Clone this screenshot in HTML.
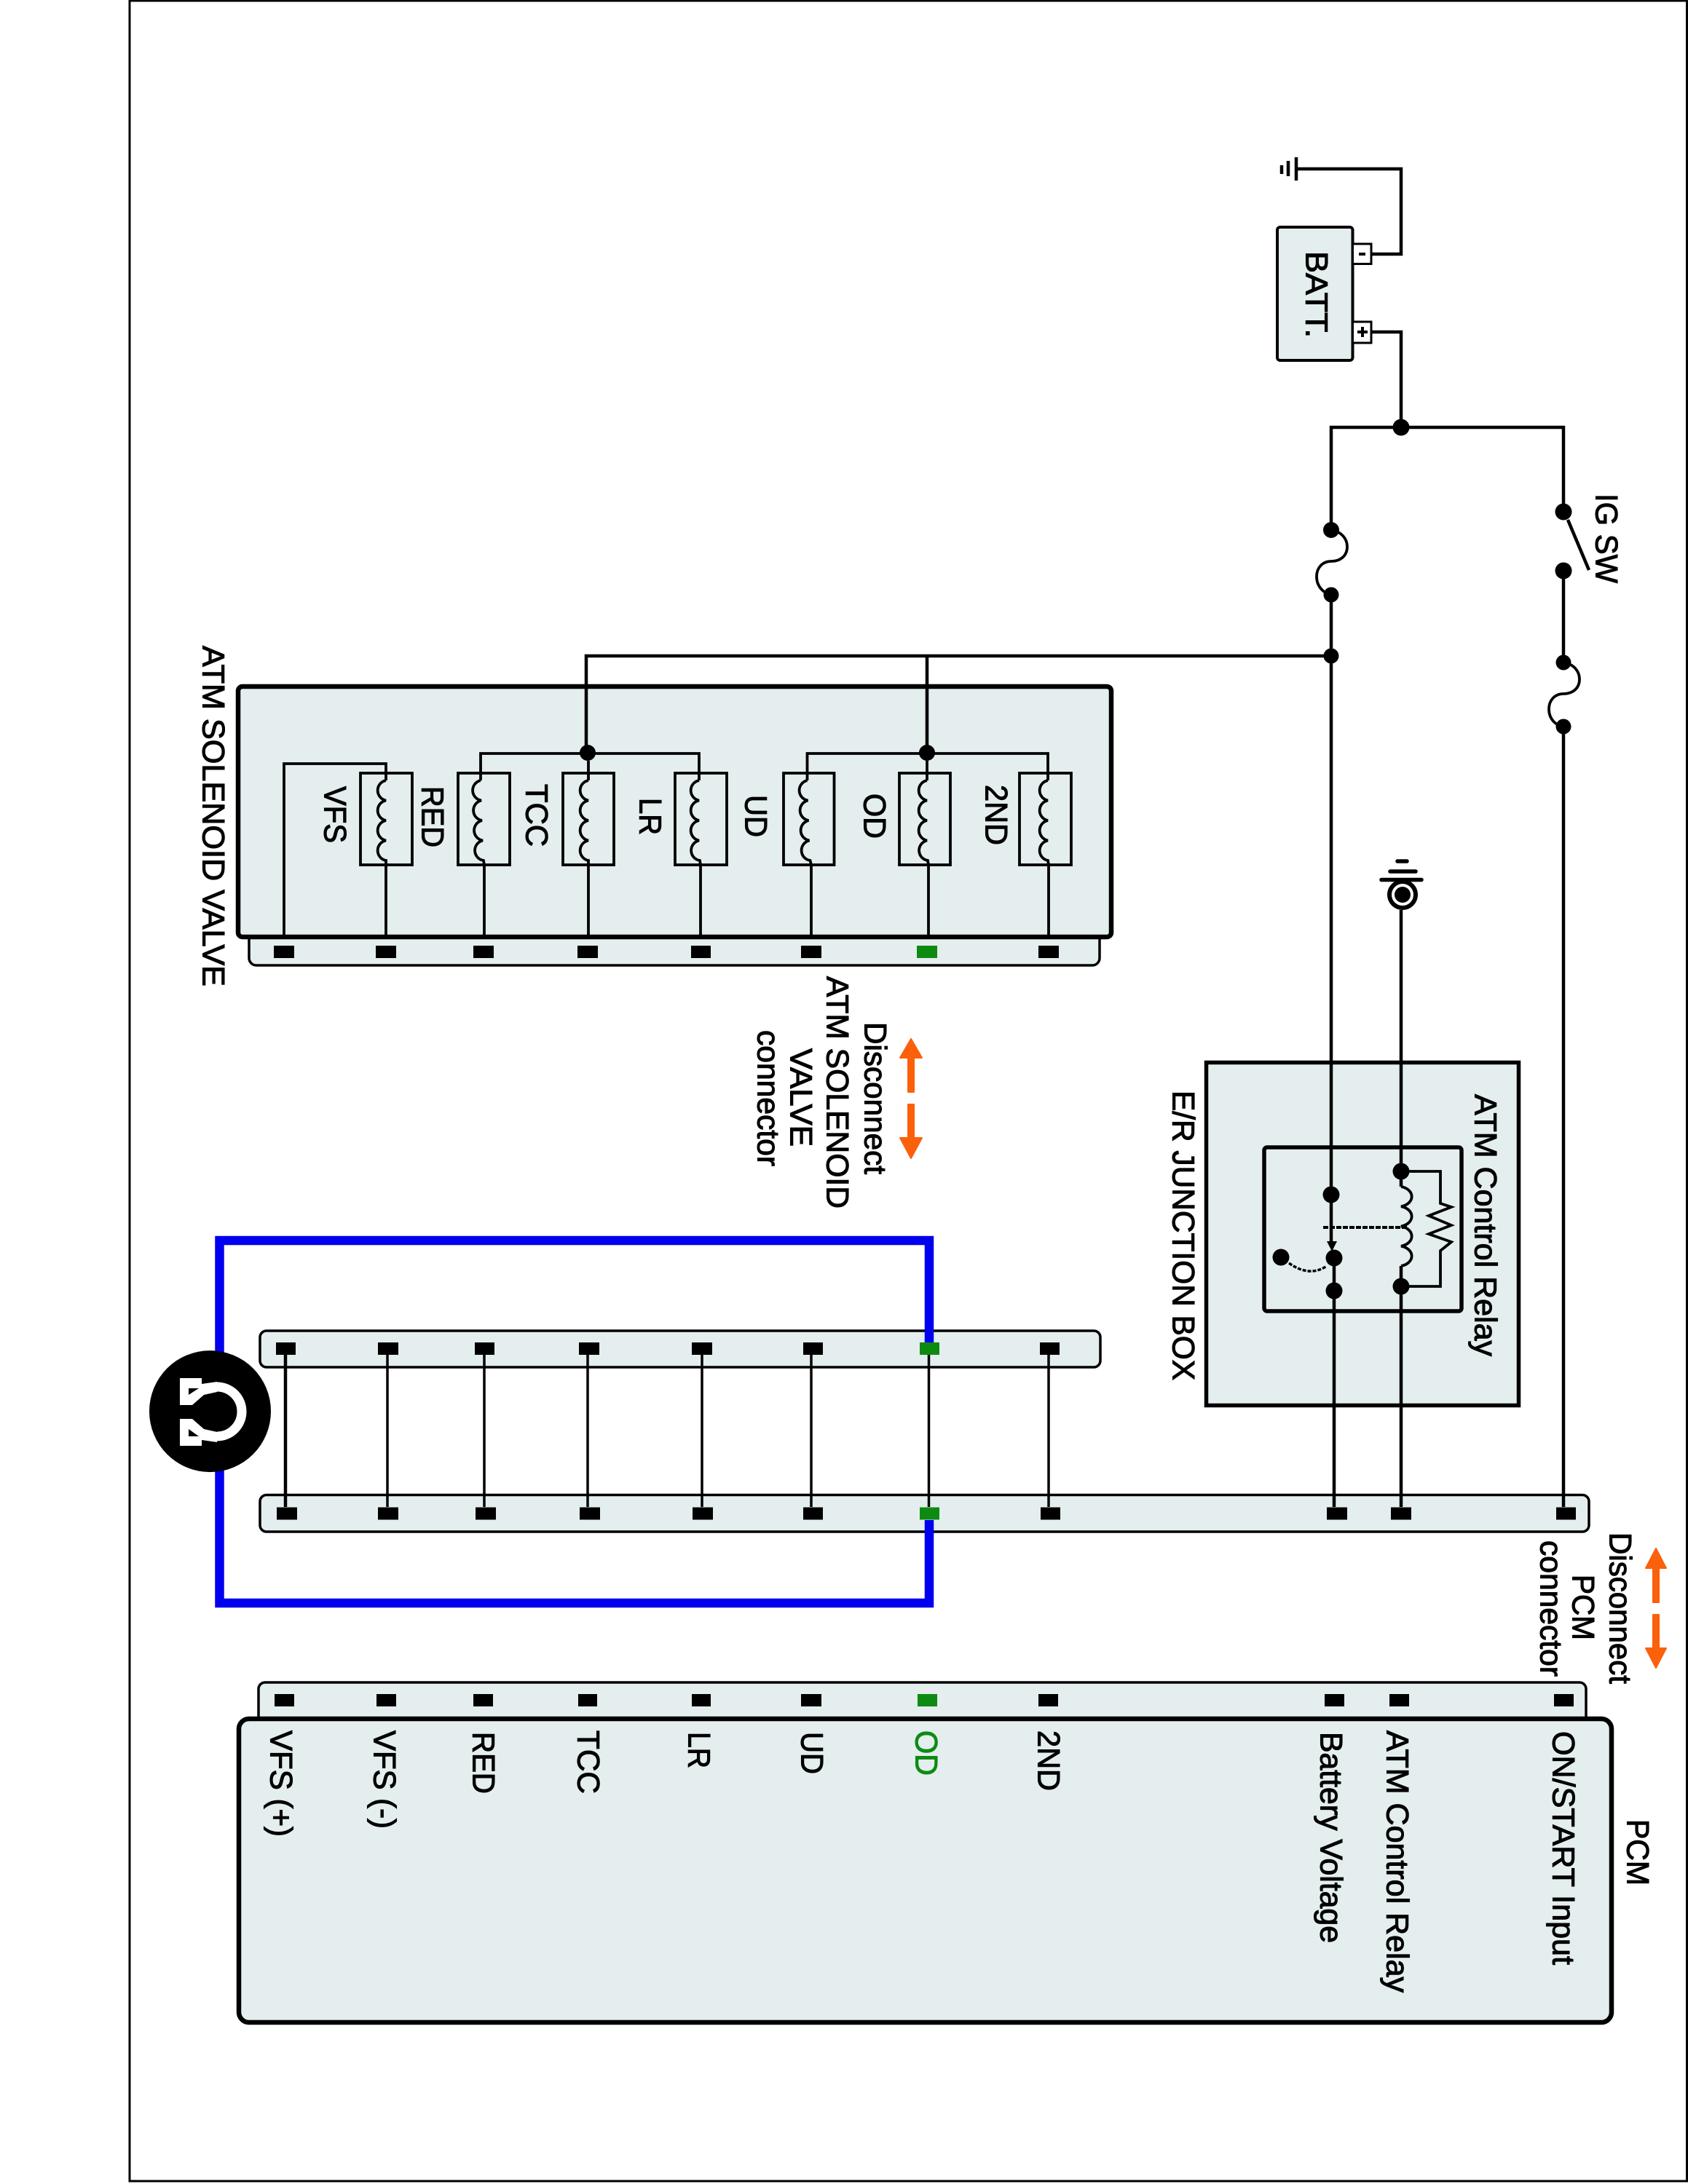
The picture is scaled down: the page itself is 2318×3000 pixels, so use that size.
<!DOCTYPE html>
<html>
<head>
<meta charset="utf-8">
<style>
html,body{margin:0;padding:0;background:#fff}
svg{display:block}
text{font-family:"Liberation Sans",Arial,sans-serif;font-size:43px;fill:#000;stroke:#000;stroke-width:1.1px}
.g{fill:#0d8a12;stroke:#0d8a12}
.w{fill:none;stroke:#000;stroke-width:4.5;stroke-linejoin:miter}
.t{fill:none;stroke:#000;stroke-width:3.8}
.b{fill:#e4eeee;stroke:#000}
</style>
</head>
<body>
<svg xmlns="http://www.w3.org/2000/svg" width="2318" height="3000" viewBox="0 0 2318 3000">
<rect width="2318" height="3000" fill="#fff"/>
<!-- frame -->
<path d="M178 1H2316.5V2996H178Z" fill="none" stroke="#000" stroke-width="3"/>

<!-- boxes -->
<rect class="b" x="1656.5" y="1459.5" width="429" height="471" stroke-width="5.5"/>
<rect class="b" x="342" y="1270" width="1168" height="56" rx="10" stroke-width="3.5"/>
<rect class="b" x="327" y="943" width="1199" height="344" rx="6" stroke-width="6.5"/>
<rect class="b" x="357" y="1828" width="1154" height="50" rx="9" stroke-width="3.5"/>
<rect class="b" x="357" y="2053.5" width="1825" height="50.5" rx="9" stroke-width="3.5"/>
<rect class="b" x="355" y="2311" width="1823" height="70" rx="9" stroke-width="3.5"/>
<rect class="b" x="328" y="2361" width="1885" height="417" rx="14" stroke-width="6.5"/>
<rect class="b" x="1754" y="312" width="103.5" height="183" rx="4" stroke-width="4"/>
<rect x="1857.5" y="335" width="25.5" height="27.5" fill="#fff" stroke="#000" stroke-width="3"/>
<rect x="1857.5" y="442" width="25.5" height="29" fill="#fff" stroke="#000" stroke-width="3"/>
<path d="M1866 349h9M1864 456h14M1871 449v14" stroke="#000" stroke-width="4" fill="none"/>
<rect x="1736" y="1576" width="271" height="225" rx="4" fill="none" stroke="#000" stroke-width="5.5"/>

<!-- blue loop (drawn over connector strips) -->
<path d="M1276 1844V1704H301.5V2202H1276V2088" fill="none" stroke="#0000ee" stroke-width="12.5"/>

<!-- power wiring -->
<path class="w" d="M1780 232H1924V349H1883"/>
<path d="M1780 216V248M1769 221V242M1760 227V239" stroke="#000" stroke-width="4.5" fill="none"/>
<path class="w" d="M1883 456H1924V587"/>
<path class="w" d="M1828 728V587H2147V703"/>
<path class="w" d="M1828 817V1706"/>
<path class="w" d="M1832 1728V2070"/>
<path class="w" d="M2147 784V910M2147 998V2070"/>
<path class="w" d="M2153 714L2182 783"/>
<path class="t" d="M1828 728C1842 730 1850 740 1850 751C1850 764 1840 771 1828 771C1816 771 1808 780 1808 792C1808 806 1818 815 1828 817"/>
<path class="t" d="M2147 910C2161 912 2169 922 2169 933C2169 946 2159 953 2147 953C2135 953 2127 962 2127 974C2127 988 2137 997 2147 998"/>
<path class="w" d="M805 1034V901H1828"/>
<path class="w" d="M1273 901V1034"/>

<!-- junction dots -->
<g fill="#000">
<circle cx="1924" cy="587" r="11.5"/>
<circle cx="1828" cy="728" r="11"/><circle cx="1828" cy="817" r="10.5"/><circle cx="1828" cy="901" r="10.5"/>
<circle cx="2147" cy="703" r="11.5"/><circle cx="2147" cy="784" r="11.5"/>
<circle cx="2147" cy="910" r="10.5"/><circle cx="2147" cy="998" r="10.5"/>
<circle cx="807" cy="1034" r="11"/><circle cx="1273" cy="1034" r="11"/>
<circle cx="1828" cy="1641" r="11.5"/><circle cx="1832" cy="1728" r="11.5"/><circle cx="1832" cy="1773" r="11.5"/>
<circle cx="1759" cy="1727" r="11.5"/>
<circle cx="1924" cy="1609" r="11.5"/><circle cx="1924" cy="1767" r="11.5"/>
</g>

<!-- relay internals -->
<path d="M1822 1705H1836L1829 1719Z" fill="#000"/>
<path d="M1817 1686H1933" stroke="#000" stroke-width="4" stroke-dasharray="7 2" fill="none"/>
<path d="M1770 1735Q1798 1755 1822 1739" stroke="#000" stroke-width="3.5" stroke-dasharray="5 2" fill="none"/>
<path class="w" d="M1924 1250V1630"/>
<path class="t" d="M1924 1630a19 14 0 0 1 0 27.25a19 14 0 0 1 0 27.25a19 14 0 0 1 0 27.25a19 14 0 0 1 0 27.25"/>
<path class="w" d="M1924 1739V2070"/>
<path class="t" d="M1924 1609H1978V1653L1993 1658L1962 1670L1993 1683L1962 1695L1993 1706L1978 1718V1767H1924"/>

<!-- ground 2 -->
<path d="M1919 1183H1932M1909 1197H1944M1897 1208.5H1952" stroke="#000" stroke-width="5.5" stroke-linecap="round" fill="none"/>
<circle cx="1926" cy="1229" r="18" fill="#fff" stroke="#000" stroke-width="6"/>
<circle cx="1926" cy="1229" r="11" fill="#000"/>

<!-- solenoid wiring -->
<path class="t" d="M390 1287V1049H530V1072"/>
<path class="t" d="M660 1072V1035H960V1072"/>
<path class="t" d="M1108.500 1072V1035H1439V1072"/>
<path class="t" d="M808 1045V1072M1273 1045V1072"/>
<g fill="none" stroke="#000" stroke-width="3.8">
<rect x="495" y="1062" width="71" height="126"/>
<rect x="629" y="1062" width="71" height="126"/>
<rect x="773" y="1062" width="70" height="126"/>
<rect x="927" y="1062" width="71" height="126"/>
<rect x="1076" y="1062" width="69.500" height="126"/>
<rect x="1235" y="1062" width="70" height="126"/>
<rect x="1400" y="1062" width="71" height="126"/>
<path d="M530 1072a14 14 0 0 0 0 27.500a14 14 0 0 0 0 27.500a14 14 0 0 0 0 27.500a14 14 0 0 0 0 27.500V1287"/>
<path d="M660 1072a14 14 0 0 0 1 27.500a14 14 0 0 0 1 27.500a14 14 0 0 0 1 27.500a14 14 0 0 0 1 27.500L665 1188V1287"/>
<path d="M808 1072a14 14 0 0 0 0 27.500a14 14 0 0 0 0 27.500a14 14 0 0 0 0 27.500a14 14 0 0 0 0 27.500V1287"/>
<path d="M960 1072a14 14 0 0 0 0 27.500a14 14 0 0 0 0 27.500a14 14 0 0 0 0 27.500a14 14 0 0 0 1 27.500L962 1188V1287"/>
<path d="M1108.500 1072a14 14 0 0 0 1 27.500a14 14 0 0 0 1 27.500a14 14 0 0 0 1 27.500a14 14 0 0 0 1 27.500L1114 1188V1287"/>
<path d="M1273 1072a14 14 0 0 0 0 27.500a14 14 0 0 0 0 27.500a14 14 0 0 0 0 27.500a14 14 0 0 0 1 27.500L1275 1188V1287"/>
<path d="M1439 1072a14 14 0 0 0 0 27.500a14 14 0 0 0 0 27.500a14 14 0 0 0 0 27.500a14 14 0 0 0 0 27.500L1440 1188V1287"/>
</g>

<!-- jumper wires between connectors -->
<path d="M392 1861V2070" stroke="#000" stroke-width="4.5"/>
<path d="M532 1861V2070M665 1861V2070M807 1861V2070M964 1861V2070M1114 1861V2070M1275.500 1861V2070M1440 1861V2070" stroke="#000" stroke-width="3.500" fill="none"/>

<!-- pins -->
<g fill="#000">
<rect x="376" y="1299" width="28" height="17"/><rect x="516" y="1299" width="28" height="17"/>
<rect x="650" y="1299" width="28" height="17"/><rect x="793" y="1299" width="28" height="17"/>
<rect x="949" y="1299" width="27" height="17"/><rect x="1100" y="1299" width="28" height="17"/>
<rect x="1426" y="1299" width="28" height="17"/>
<rect x="379" y="1844" width="27" height="17"/><rect x="519" y="1844" width="28" height="17"/>
<rect x="652" y="1844" width="27" height="17"/><rect x="795" y="1844" width="28" height="17"/>
<rect x="950" y="1844" width="28" height="17"/><rect x="1103" y="1844" width="27" height="17"/>
<rect x="1428" y="1844" width="27" height="17"/>
<rect x="380" y="2070.500" width="28" height="17"/><rect x="519" y="2070.500" width="28" height="17"/>
<rect x="653" y="2070.500" width="28" height="17"/><rect x="796" y="2070.500" width="28" height="17"/>
<rect x="951" y="2070.500" width="28" height="17"/><rect x="1103" y="2070.500" width="27" height="17"/>
<rect x="1429" y="2070.500" width="27" height="17"/><rect x="1822" y="2070.500" width="28" height="17"/>
<rect x="1910" y="2070.500" width="28" height="17"/><rect x="2137" y="2070.500" width="27" height="17"/>
<rect x="377" y="2327" width="27" height="17"/><rect x="517" y="2327" width="27" height="17"/>
<rect x="650" y="2327" width="27" height="17"/><rect x="794" y="2327" width="26" height="17"/>
<rect x="950" y="2327" width="26" height="17"/><rect x="1100" y="2327" width="28" height="17"/>
<rect x="1426" y="2327" width="27" height="17"/><rect x="1819" y="2327" width="27" height="17"/>
<rect x="1908" y="2327" width="27" height="17"/><rect x="2134" y="2327" width="27" height="17"/>
</g>
<g fill="#0d8a12">
<rect x="1259" y="1299" width="28" height="17"/>
<rect x="1263" y="1844" width="27" height="17"/>
<rect x="1263" y="2070.500" width="27" height="17"/>
<rect x="1260" y="2327" width="27" height="17"/>
</g>

<!-- measuring icon -->
<circle cx="288.500" cy="1938.600" r="83.500" fill="#000"/>
<path d="M298 1905A34 34 0 0 1 298 1973" fill="none" stroke="#fff" stroke-width="13"/>
<path d="M247 1893H277V1901L298 1898V1912L280 1916L264 1930H247Z" fill="#fff"/>
<path d="M247 1986H277V1978L298 1981V1967L280 1963L264 1949H247Z" fill="#fff"/>
<path d="M259 1907H273L259 1916Z" fill="#000"/>
<path d="M259 1973H273L259 1963Z" fill="#000"/>

<!-- orange arrows -->
<g fill="#fb600b" stroke="#fb600b" stroke-linejoin="round">
<path d="M1251 1427L1236 1453H1247V1500H1255V1453H1266Z" stroke-width="2"/>
<path d="M1251 1591L1236 1563H1247V1517H1255V1563H1266Z" stroke-width="2"/>
<path d="M2274 2127L2260 2154H2270V2201H2278V2154H2288Z" stroke-width="2"/>
<path d="M2274 2291L2260 2264H2270V2218H2278V2264H2288Z" stroke-width="2"/>
</g>

<!-- labels -->
<g transform="translate(2.5,0)">
<text transform="translate(2189,678) rotate(90)" textLength="123" lengthAdjust="spacingAndGlyphs">IG SW</text>
<text transform="translate(1791,345) rotate(90)" textLength="119" lengthAdjust="spacingAndGlyphs">BATT.</text>
<text transform="translate(2023,1503) rotate(90)" textLength="360" lengthAdjust="spacingAndGlyphs">ATM Control Relay</text>
<text transform="translate(1608,1498) rotate(90)" textLength="398" lengthAdjust="spacingAndGlyphs">E/R JUNCTION BOX</text>
<text transform="translate(276,887) rotate(90)" textLength="468" lengthAdjust="spacingAndGlyphs">ATM SOLENOID VALVE</text>
<text transform="translate(443,1080) rotate(90)" textLength="78" lengthAdjust="spacingAndGlyphs">VFS</text>
<text transform="translate(577,1080) rotate(90)" textLength="84" lengthAdjust="spacingAndGlyphs">RED</text>
<text transform="translate(720,1077) rotate(90)" textLength="86" lengthAdjust="spacingAndGlyphs">TCC</text>
<text transform="translate(876,1096) rotate(90)" textLength="51" lengthAdjust="spacingAndGlyphs">LR</text>
<text transform="translate(1021,1092) rotate(90)" textLength="58" lengthAdjust="spacingAndGlyphs">UD</text>
<text transform="translate(1184,1090) rotate(90)" textLength="62" lengthAdjust="spacingAndGlyphs">OD</text>
<text transform="translate(1351,1078) rotate(90)" textLength="83" lengthAdjust="spacingAndGlyphs">2ND</text>
<text transform="translate(1185,1404) rotate(90)" textLength="209" lengthAdjust="spacingAndGlyphs">Disconnect</text>
<text transform="translate(1133,1341) rotate(90)" textLength="319" lengthAdjust="spacingAndGlyphs">ATM SOLENOID</text>
<text transform="translate(1083,1440) rotate(90)" textLength="135" lengthAdjust="spacingAndGlyphs">VALVE</text>
<text transform="translate(1038,1415) rotate(90)" textLength="187" lengthAdjust="spacingAndGlyphs">connector</text>
<text transform="translate(2208,2105) rotate(90)" textLength="208" lengthAdjust="spacingAndGlyphs">Disconnect</text>
<text transform="translate(2157,2163) rotate(90)" textLength="90" lengthAdjust="spacingAndGlyphs">PCM</text>
<text transform="translate(2113,2116) rotate(90)" textLength="187" lengthAdjust="spacingAndGlyphs">connector</text>
<text transform="translate(369,2377) rotate(90)" textLength="146" lengthAdjust="spacingAndGlyphs">VFS (+)</text>
<text transform="translate(511,2377) rotate(90)" textLength="135" lengthAdjust="spacingAndGlyphs">VFS (-)</text>
<text transform="translate(647,2379) rotate(90)" textLength="85" lengthAdjust="spacingAndGlyphs">RED</text>
<text transform="translate(791,2377) rotate(90)" textLength="87" lengthAdjust="spacingAndGlyphs">TCC</text>
<text transform="translate(943,2379) rotate(90)" textLength="50" lengthAdjust="spacingAndGlyphs">LR</text>
<text transform="translate(1098,2379) rotate(90)" textLength="58" lengthAdjust="spacingAndGlyphs">UD</text>
<text class="g" transform="translate(1255,2377) rotate(90)" textLength="62" lengthAdjust="spacingAndGlyphs">OD</text>
<text transform="translate(1423,2377) rotate(90)" textLength="83" lengthAdjust="spacingAndGlyphs">2ND</text>
<text transform="translate(1811,2379) rotate(90)" textLength="290" lengthAdjust="spacingAndGlyphs">Battery Voltage</text>
<text transform="translate(1902,2377) rotate(90)" textLength="360" lengthAdjust="spacingAndGlyphs">ATM Control Relay</text>
<text transform="translate(2130,2378) rotate(90)" textLength="321" lengthAdjust="spacingAndGlyphs">ON/START Input</text>
<text transform="translate(2232,2499) rotate(90)" textLength="91" lengthAdjust="spacingAndGlyphs">PCM</text>
</g>
</svg>
</body>
</html>
